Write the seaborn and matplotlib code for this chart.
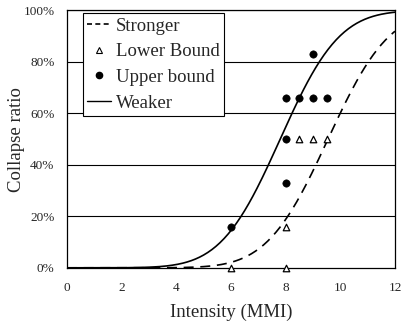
import math
import numpy as np
import pandas as pd
import matplotlib
matplotlib.use("Agg")
import matplotlib.pyplot as plt
from matplotlib.lines import Line2D
import seaborn as sns

# Data
upper_x = [6, 8, 8, 8, 8.5, 9, 9.5, 9]
upper_y = [0.16, 0.33, 0.50, 0.66, 0.66, 0.66, 0.66, 0.83]
lower_x = [6, 8, 8, 8.5, 9, 9.5]
lower_y = [0.0, 0.0, 0.16, 0.50, 0.50, 0.50]
# fragility curve parameters (normal CDF in MMI): median, std
weaker_params = (7.8, 1.7)
stronger_params = (9.55, 1.75)
x_ticks = [0, 2, 4, 6, 8, 10, 12]
y_ticks = [0, 0.2, 0.4, 0.6, 0.8, 1.0]


def cdf(x, mu, sd):
    return 0.5 * (1 + math.erf((x - mu) / (sd * math.sqrt(2))))


xs = np.linspace(0, 12, 241)
curves = pd.DataFrame({
    "x": np.concatenate([xs, xs]),
    "y": [cdf(v, *stronger_params) for v in xs] + [cdf(v, *weaker_params) for v in xs],
    "curve": ["Stronger"] * len(xs) + ["Weaker"] * len(xs),
})
pts_up = pd.DataFrame({"x": upper_x, "y": upper_y})
pts_lo = pd.DataFrame({"x": lower_x, "y": lower_y})

sns.set_theme(style="white")
plt.rcParams["font.family"] = ["Liberation Serif", "DejaVu Serif"]

fig = plt.figure(figsize=(4.01, 3.27), dpi=100)
ax = fig.add_axes([0.167, 0.181, 0.818, 0.787])

for yt in y_ticks[1:]:
    ax.axhline(yt, color="black", lw=0.8, zorder=1)

sns.lineplot(data=curves[curves.curve == "Weaker"], x="x", y="y", color="black",
             lw=1.2, ax=ax, legend=False)
sns.lineplot(data=curves[curves.curve == "Stronger"], x="x", y="y", color="black",
             lw=1.2, ax=ax, legend=False, dashes=False, linestyle=(0, (6, 4)))
sns.scatterplot(data=pts_up, x="x", y="y", marker="o", s=28, color="black",
                edgecolor="black", ax=ax, zorder=5, clip_on=False)
sns.scatterplot(data=pts_lo, x="x", y="y", marker="^", s=22, facecolor="white",
                edgecolor="black", linewidth=0.9, ax=ax, zorder=5, clip_on=False)

ax.set_xlim(0, 12)
ax.set_ylim(0, 1)
ax.set_xticks(x_ticks)
ax.set_xticklabels([str(t) for t in x_ticks], fontsize=9.5)
ax.set_yticks(y_ticks)
ax.set_yticklabels([f"{int(round(t*100))}%" for t in y_ticks], fontsize=9.5)
ax.tick_params(axis="x", direction="in", length=3, width=0.8, color="black", pad=10)
ax.tick_params(axis="y", direction="in", length=0, pad=9)
for s in ax.spines.values():
    s.set_color("black")
    s.set_linewidth(0.9)
ax.set_xlabel("Intensity (MMI)", fontsize=13.5)
ax.set_ylabel("Collapse ratio", fontsize=13.5)
ax.xaxis.set_label_coords(0.5, -0.14)
ax.yaxis.set_label_coords(-0.128, 0.5)

handles = [
    Line2D([], [], color="black", lw=1.2, linestyle=(0, (3, 2))),
    Line2D([], [], color="black", marker="^", markersize=4, markerfacecolor="white",
           lw=0, markeredgewidth=0.8),
    Line2D([], [], color="black", marker="o", markersize=4.5, lw=0),
    Line2D([], [], color="black", lw=1.0),
]
labels = ["Stronger", "Lower Bound", "Upper bound", "Weaker"]
leg = ax.legend(handles, labels, loc="upper left", bbox_to_anchor=(0.048, 0.99),
                fontsize=13.5, frameon=True, fancybox=False, handlelength=1.25,
                handletextpad=0.25, labelspacing=0.45, borderpad=0.25, borderaxespad=0)
leg.get_frame().set_edgecolor("black")
leg.get_frame().set_linewidth(0.8)
leg.get_frame().set_alpha(1)

fig.savefig("out.png", dpi=100)
